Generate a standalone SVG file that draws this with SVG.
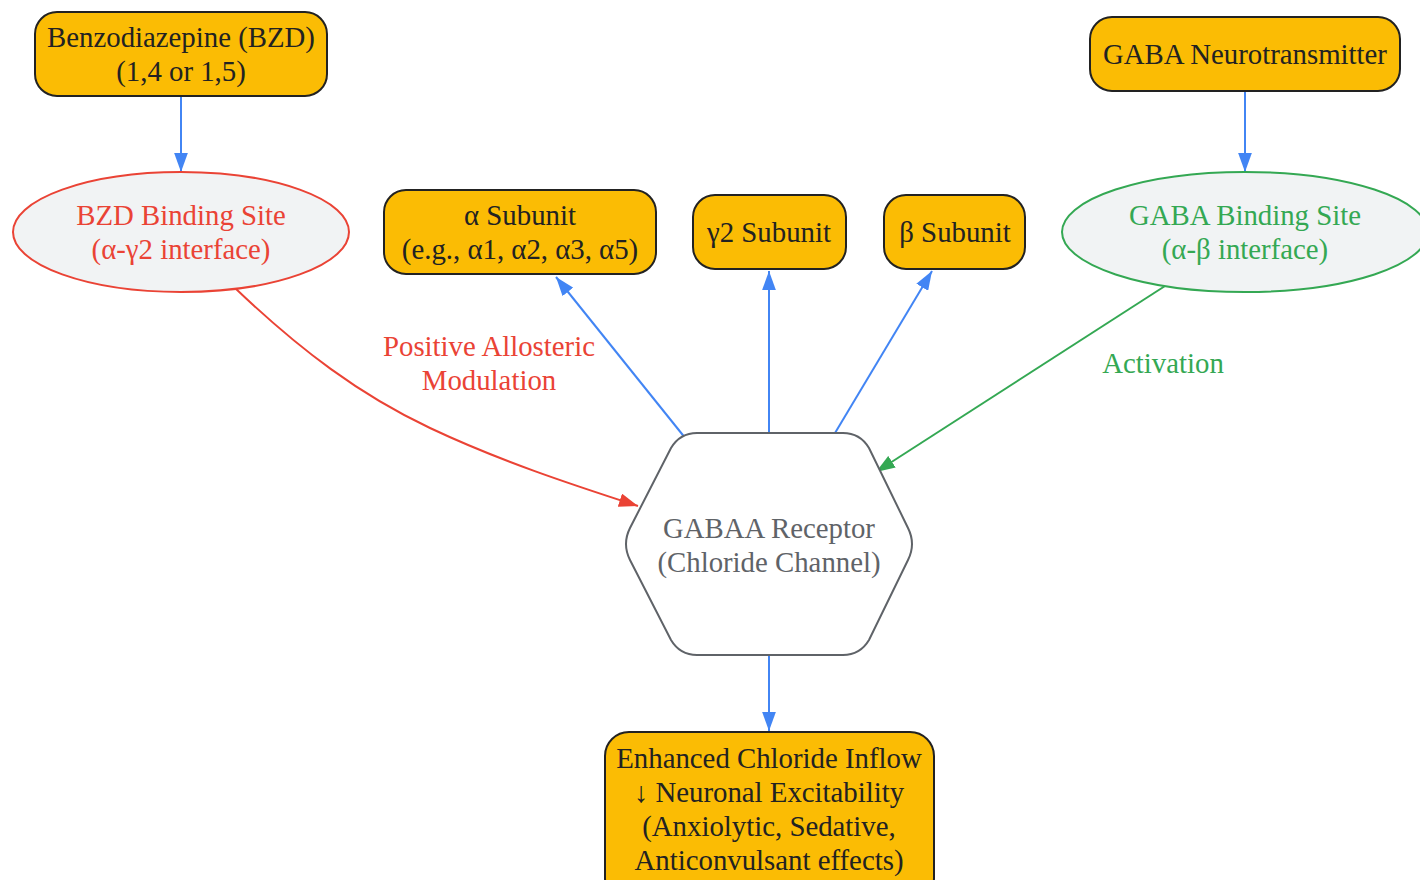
<svg xmlns="http://www.w3.org/2000/svg" width="1420" height="880" viewBox="0 0 1420 880">
<defs>
<style>
.box{fill:#FBBC04;stroke:#222;stroke-width:2}
.ell{fill:#F1F3F4;stroke-width:2}
text{font-family:"Liberation Serif","Times New Roman",serif;font-size:28.8px;text-anchor:middle;dominant-baseline:central}
.dark{fill:#222}
.red{fill:#EA4335}
.green{fill:#34A853}
.gray{fill:#5f6368}
.e{fill:none;stroke-width:2}
.blue{stroke:#4285F4}
.redl{stroke:#EA4335}
.greenl{stroke:#34A853}
</style>
<marker id="ab" viewBox="0 0 18 13" refX="18" refY="6.5" markerWidth="19" markerHeight="14" markerUnits="userSpaceOnUse" orient="auto"><path d="M0,0L18,6.5L0,13z" fill="#4285F4"/></marker>
<marker id="ar" viewBox="0 0 18 13" refX="18" refY="6.5" markerWidth="19" markerHeight="14" markerUnits="userSpaceOnUse" orient="auto"><path d="M0,0L18,6.5L0,13z" fill="#EA4335"/></marker>
<marker id="ag" viewBox="0 0 18 13" refX="18" refY="6.5" markerWidth="19" markerHeight="14" markerUnits="userSpaceOnUse" orient="auto"><path d="M0,0L18,6.5L0,13z" fill="#34A853"/></marker>
</defs>
<rect width="1420" height="880" fill="#fff"/>
<g id="edges">
<path class="e blue" d="M181,96L181,172" marker-end="url(#ab)"/>
<path class="e blue" d="M1245,91L1245,172" marker-end="url(#ab)"/>
<path class="e redl" d="M235,288C300,350 360,395 430,428C500,461 570,484 638,506" marker-end="url(#ar)"/>
<path class="e greenl" d="M1165,286L876,472" marker-end="url(#ag)"/>
<path class="e blue" d="M686,439L556,277" marker-end="url(#ab)"/>
<path class="e blue" d="M769,433L769,271" marker-end="url(#ab)"/>
<path class="e blue" d="M835,433L932,271" marker-end="url(#ab)"/>
<path class="e blue" d="M769,656L769,731" marker-end="url(#ab)"/>
<text class="red" x="489" y="346">Positive Allosteric</text>
<text class="red" x="489" y="380">Modulation</text>
<text class="green" x="1163" y="363">Activation</text>
</g>
<g id="bzd">
<rect class="box" x="35" y="12" width="292" height="84" rx="22"/>
<text class="dark" x="181" y="37">Benzodiazepine (BZD)</text>
<text class="dark" x="181" y="71">(1,4 or 1,5)</text>
</g>
<g id="gaba">
<rect class="box" x="1090" y="17" width="310" height="74" rx="22"/>
<text class="dark" x="1245" y="54">GABA Neurotransmitter</text>
</g>
<g id="bzdsite">
<ellipse class="ell" cx="181" cy="232" rx="168" ry="60" stroke="#EA4335"/>
<text class="red" x="181" y="215">BZD Binding Site</text>
<text class="red" x="181" y="249">(α-γ2 interface)</text>
</g>
<g id="gabasite">
<ellipse class="ell" cx="1245" cy="232" rx="183" ry="60" stroke="#34A853"/>
<text class="green" x="1245" y="215">GABA Binding Site</text>
<text class="green" x="1245" y="249">(α-β interface)</text>
</g>
<g id="alpha">
<rect class="box" x="384" y="190" width="272" height="84" rx="22"/>
<text class="dark" x="520" y="215">α Subunit</text>
<text class="dark" x="520" y="249">(e.g., α1, α2, α3, α5)</text>
</g>
<g id="gamma">
<rect class="box" x="693" y="195" width="153" height="74" rx="22"/>
<text class="dark" x="769" y="232">γ2 Subunit</text>
</g>
<g id="beta">
<rect class="box" x="884" y="195" width="141" height="74" rx="22"/>
<text class="dark" x="955" y="232">β Subunit</text>
</g>
<g id="receptor">
<path d="M697,433L843,433Q860,433 869,448L908,528Q916,544 908,560L869,640Q860,655 843,655L697,655Q680,655 671,640L630,560Q622,544 630,528L671,448Q680,433 697,433Z" fill="#fff" stroke="#5f6368" stroke-width="2"/>
<text class="gray" x="769" y="528">GABAA Receptor</text>
<text class="gray" x="769" y="562">(Chloride Channel)</text>
</g>
<g id="effect">
<rect class="box" x="605" y="732" width="329" height="170" rx="24"/>
<text class="dark" x="769" y="758">Enhanced Chloride Inflow</text>
<text class="dark" x="769" y="792">↓ Neuronal Excitability</text>
<text class="dark" x="769" y="826">(Anxiolytic, Sedative,</text>
<text class="dark" x="769" y="860">Anticonvulsant effects)</text>
</g>
</svg>
